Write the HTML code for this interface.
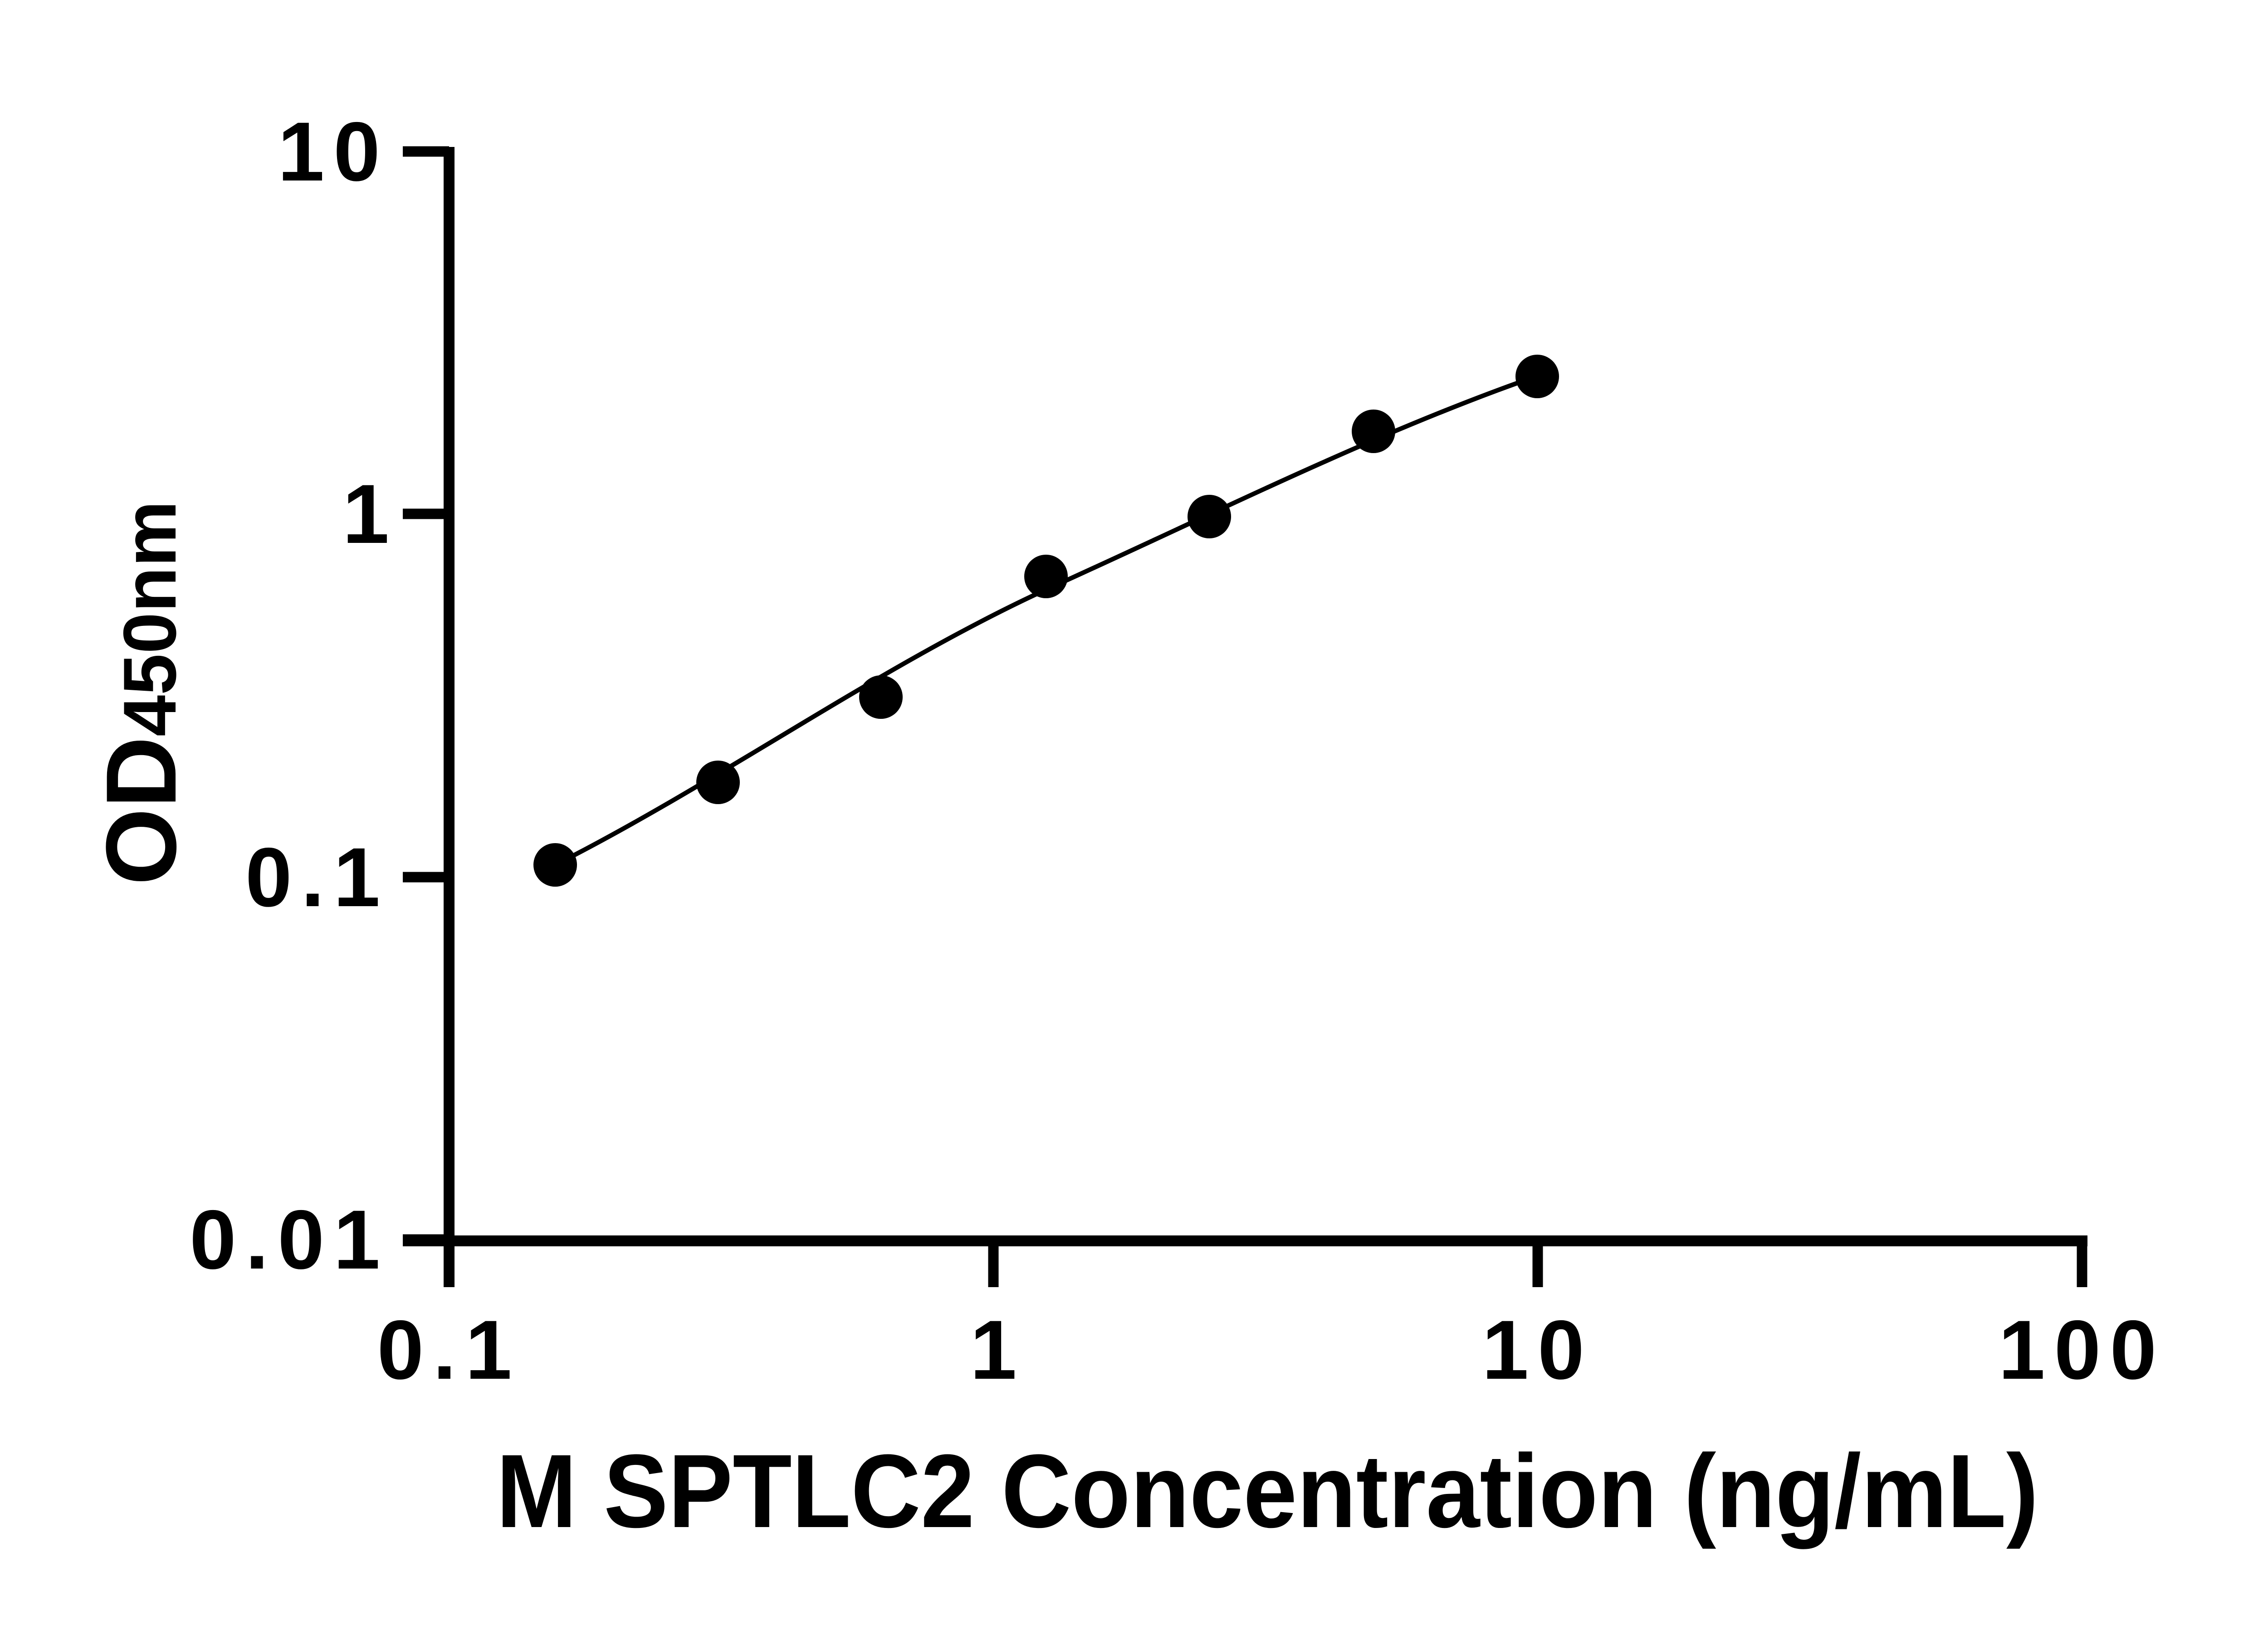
<!DOCTYPE html>
<html><head><meta charset="utf-8"><style>html,body{margin:0;padding:0;background:#fff}</style></head>
<body>
<svg xmlns="http://www.w3.org/2000/svg" width="5142" height="3600" viewBox="0 0 5142 3600">
<rect width="5142" height="3600" fill="#fff"/>
<g stroke="#000" fill="none">
<line x1="990" y1="324" x2="990" y2="2838" stroke-width="24"/>
<line x1="888" y1="2736" x2="4602" y2="2736" stroke-width="24"/>
<g stroke-width="23">
<line x1="888" y1="334" x2="990" y2="334"/>
<line x1="888" y1="1133" x2="990" y2="1133"/>
<line x1="888" y1="1934" x2="990" y2="1934"/>
<line x1="888" y1="2733" x2="990" y2="2733"/>
<line x1="2190" y1="2736" x2="2190" y2="2838"/>
<line x1="3390" y1="2736" x2="3390" y2="2838"/>
<line x1="4590" y1="2736" x2="4590" y2="2838"/>
</g>
<path d="M1224,1907 C1584,1725 1946,1465 2306,1300 C2666,1138 3029,954 3389,829" stroke-width="10"/>
</g>
<g fill="#000">
<circle cx="1224" cy="1907" r="48"/>
<circle cx="1583" cy="1725" r="48"/>
<circle cx="1942" cy="1537" r="48"/>
<circle cx="2306" cy="1271" r="48"/>
<circle cx="2666" cy="1139" r="48"/>
<circle cx="3028" cy="951" r="48"/>
<circle cx="3389" cy="830" r="48"/>
</g>
<g font-family="Liberation Sans, sans-serif" font-weight="bold" font-size="185" fill="#000">
<text x="858" y="398" text-anchor="end" letter-spacing="20">10</text>
<text x="858" y="1197" text-anchor="end">1</text>
<text x="858" y="1998" text-anchor="end" letter-spacing="20">0.1</text>
<text x="858" y="2797" text-anchor="end" letter-spacing="20">0.01</text>
<text x="990" y="3040" text-anchor="middle" letter-spacing="20">0.1</text>
<text x="2190" y="3040" text-anchor="middle">1</text>
<text x="3390" y="3040" text-anchor="middle" letter-spacing="20">10</text>
<text x="4590" y="3040" text-anchor="middle" letter-spacing="20">100</text>
</g>
<text x="1094" y="3367" font-family="Liberation Sans, sans-serif" font-weight="bold" font-size="230" textLength="3400" lengthAdjust="spacingAndGlyphs">M SPTLC2 Concentration (ng/mL)</text>
<text transform="translate(387,1952) rotate(-90)" font-family="Liberation Sans, sans-serif" font-weight="bold" font-size="220" textLength="848" lengthAdjust="spacingAndGlyphs">OD<tspan font-size="165">450nm</tspan></text>
</svg>
</body></html>
